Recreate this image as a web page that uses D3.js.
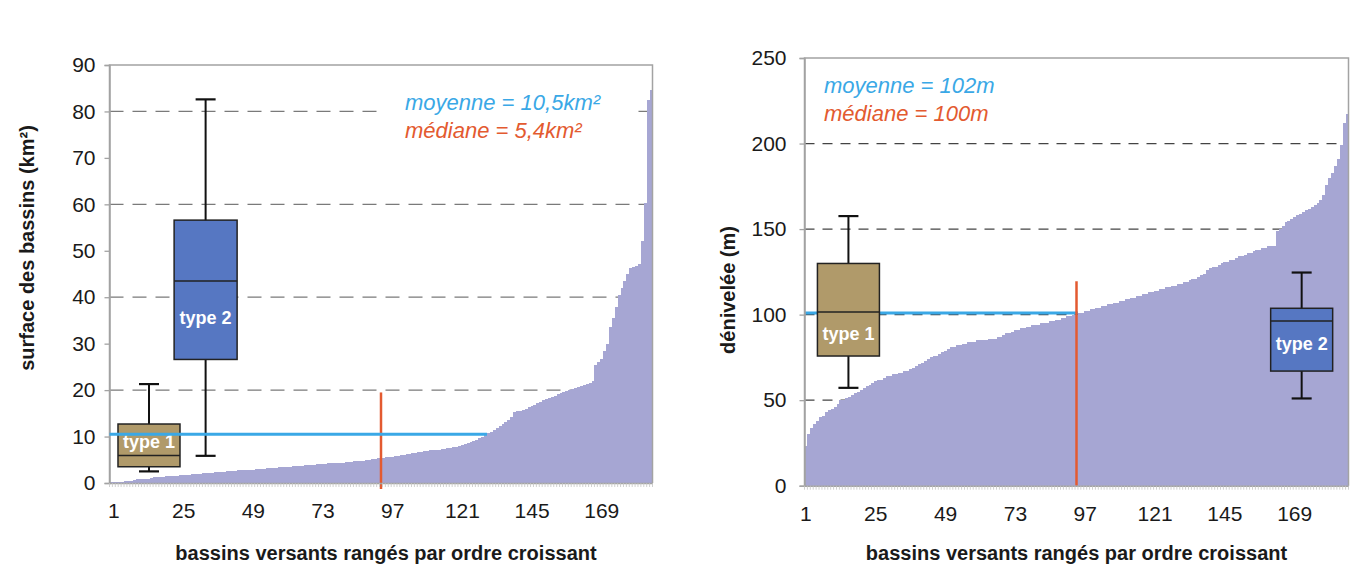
<!DOCTYPE html>
<html>
<head>
<meta charset="utf-8">
<script src="https://cdn.jsdelivr.net/npm/d3@7"></script>
<style>
  body { margin: 0; background: #fff; }
  svg { display: block; font-family: "Liberation Sans", Arial, sans-serif; }
</style>
</head>
<body>
<svg id="chart" width="1357" height="569"></svg>
<script>
// Basins sorted by increasing value (187 basins)
const surfaceValues = [
  0.2, 0.3, 0.3, 0.3, 0.3, 0.4, 0.4, 0.4, 0.7, 0.8,
  0.8, 0.8, 0.9, 0.9, 1.0, 1.2, 1.3, 1.3, 1.3, 1.4,
  1.4, 1.5, 1.5, 1.6, 1.7, 1.7, 1.8, 1.8, 1.9, 1.9,
  2.0, 2.0, 2.1, 2.1, 2.2, 2.2, 2.3, 2.3, 2.4, 2.4,
  2.5, 2.5, 2.6, 2.6, 2.7, 2.7, 2.8, 2.8, 2.9, 2.9,
  3.0, 3.0, 3.1, 3.1, 3.2, 3.2, 3.3, 3.3, 3.4, 3.4,
  3.5, 3.5, 3.5, 3.6, 3.6, 3.7, 3.7, 3.8, 3.8, 3.9,
  3.9, 4.0, 4.0, 4.1, 4.1, 4.2, 4.2, 4.3, 4.3, 4.4,
  4.4, 4.5, 4.5, 4.6, 4.7, 4.7, 4.8, 4.8, 4.9, 5.0,
  5.1, 5.2, 5.3, 5.4, 5.4, 5.5, 5.6, 5.7, 5.8, 5.9,
  6.0, 6.1, 6.2, 6.3, 6.4, 6.5, 6.6, 6.7, 6.8, 6.9,
  7.0, 7.0, 7.1, 7.2, 7.3, 7.4, 7.5, 7.6, 7.7, 7.8,
  8.0, 8.2, 8.4, 8.6, 8.8, 9.0, 9.3, 9.6, 10.0, 10.3,
  10.7, 11.0, 11.4, 11.8, 12.2, 12.6, 13.1, 13.6, 14.2, 15.2,
  15.4, 15.6, 15.8, 16.0, 16.3, 16.6, 16.9, 17.2, 17.5, 17.8,
  18.0, 18.2, 18.5, 18.8, 19.1, 19.4, 19.6, 19.8, 20.0, 20.2,
  20.4, 20.6, 20.8, 21.0, 21.3, 21.6, 21.9, 25.5, 26.0, 26.8,
  28.5, 30.0, 33.5, 35.5, 38.0, 40.5, 42.0, 43.5, 45.0, 46.2,
  46.5, 46.8, 47.2, 52.0, 60.2, 82.5, 84.6
];

const denivValues = [
  23, 30, 34, 36, 38, 40, 41, 43, 44, 45,
  46, 48, 50, 50, 51, 52, 53, 54, 55, 56,
  57, 58, 59, 60, 61, 62, 62, 63, 64, 64,
  65, 65, 66, 66, 67, 67, 68, 69, 70, 71,
  72, 73, 74, 75, 76, 76, 77, 78, 79, 80,
  81, 81, 82, 82, 83, 83, 84, 84, 84, 85,
  85, 85, 85, 86, 86, 86, 87, 87, 88, 89,
  89, 90, 91, 91, 92, 92, 93, 93, 94, 94,
  94, 95, 95, 95, 96, 96, 97, 97, 98, 98,
  99, 99, 100, 100, 101, 101, 102, 102, 103, 103,
  104, 104, 105, 105, 106, 106, 107, 107, 108, 108,
  109, 109, 110, 110, 111, 111, 112, 112, 113, 113,
  114, 114, 115, 115, 116, 116, 117, 117, 118, 118,
  119, 119, 120, 121, 121, 122, 123, 124, 126, 127,
  128, 128, 129, 130, 131, 131, 132, 132, 133, 134,
  134, 135, 136, 136, 137, 138, 138, 139, 139, 140,
  140, 140, 149, 150, 152, 154, 155, 156, 157, 158,
  159, 160, 161, 162, 163, 164, 165, 167, 170, 176,
  180, 183, 187, 191, 199, 212, 217
];

const xTickLabels = [1, 25, 49, 73, 97, 121, 145, 169];
const surfaceTicks = [0, 10, 20, 30, 40, 50, 60, 70, 80, 90];
const surfaceGrid = [20, 40, 60, 80];
const denivTicks = [0, 50, 100, 150, 200, 250];
const denivGrid = [50, 100, 150, 200];

// box stats: [whisker low, q1, median, q3, whisker high]
const surfaceType1 = [2.5, 3.5, 5.9, 12.7, 21.3];
const surfaceType2 = [5.85, 26.6, 43.5, 56.6, 82.6];
const denivType1 = [57.2, 75.8, 101.6, 129.9, 157.6];
const denivType2 = [51, 67, 96.3, 103.7, 124.6];

// mean / median markers
const surfaceMean = 10.5;
const surfaceMedianTop = 19.5;
const denivMean = 101;
const denivMedianTop = 119.5;

const surfaceNotes = ["moyenne = 10,5km²", "médiane = 5,4km²"];
const denivNotes = ["moyenne = 102m", "médiane = 100m"];

const COLORS = {
  bar: "#a6a6d3",
  mean: "#3aa8e6",
  median: "#e35a30",
  type1: "#b09a6a",
  type2: "#5677c2",
  frame: "#a3a3a3",
  text: "#1a1a1a"
};

const svg = d3.select("#chart");

function drawPanel(cfg) {
  const g = svg.append("g");
  const n = cfg.values.length;

  const x = d3.scaleBand()
    .domain(d3.range(1, n + 1))
    .range([cfg.left, cfg.right])
    .paddingInner(0).paddingOuter(0);
  // continuous position in category units (0 = left edge)
  const xc = d3.scaleLinear().domain([0, n]).range([cfg.left, cfg.right]);
  const y = d3.scaleLinear().domain(cfg.yDomain).range([cfg.bottom, cfg.top]);

  // dashed grid
  g.append("g").selectAll("line")
    .data(cfg.grid)
    .join("line")
    .attr("x1", cfg.left).attr("x2", cfg.right)
    .attr("y1", d => y(d)).attr("y2", d => y(d))
    .attr("stroke", cfg.gridColor)
    .attr("stroke-width", 1.3)
    .attr("stroke-dasharray", cfg.dash);

  // annotations on a white box (hides the grid behind them)
  const notes = g.append("g");
  notes.append("rect")
    .attr("x", cfg.noteX - 22).attr("y", cfg.noteY - 24)
    .attr("width", cfg.noteBoxW).attr("height", 62)
    .attr("fill", "#fff");
  notes.append("text")
    .attr("x", cfg.noteX).attr("y", cfg.noteY)
    .attr("fill", COLORS.mean).attr("font-size", 22).attr("font-style", "italic")
    .text(cfg.notes[0]);
  notes.append("text")
    .attr("x", cfg.noteX).attr("y", cfg.noteY + 28)
    .attr("fill", COLORS.median).attr("font-size", 22).attr("font-style", "italic")
    .text(cfg.notes[1]);

  // mean line length: up to the first bar reaching it
  const firstAbove = cfg.values.findIndex(v => v >= cfg.mean);
  const meanEnd = x(firstAbove + 1);

  function drawMean() {
    g.append("line")
      .attr("x1", cfg.left).attr("x2", meanEnd)
      .attr("y1", y(cfg.mean)).attr("y2", y(cfg.mean))
      .attr("stroke", COLORS.mean)
      .attr("stroke-width", 3);
  }
  if (!cfg.meanOnTop) drawMean();

  // bars (no gap between basins)
  g.append("g")
    .attr("shape-rendering", "crispEdges")
    .selectAll("rect")
    .data(cfg.values)
    .join("rect")
    .attr("x", (d, i) => x(i + 1))
    .attr("y", d => y(d))
    .attr("width", (d, i) => (i === n - 1 ? x.bandwidth() : x.bandwidth() + 1))
    .attr("height", d => y(0) - y(d))
    .attr("fill", COLORS.bar);

  // median line
  const medianIdx = Math.ceil(n / 2);
  const mx = x(medianIdx) + x.bandwidth() / 2;
  g.append("line")
    .attr("x1", mx).attr("x2", mx)
    .attr("y1", y(cfg.medianTop)).attr("y2", y(0) + cfg.medianBelow)
    .attr("stroke", COLORS.median)
    .attr("stroke-width", 2.5);

  // frame
  g.append("path")
    .attr("d", `M${cfg.left},${cfg.bottom} V${cfg.top} H${cfg.right} V${cfg.bottom}`)
    .attr("fill", "none")
    .attr("stroke", COLORS.frame)
    .attr("stroke-width", 1.5);

  // y axis
  const yAxis = g.append("g")
    .attr("transform", `translate(${cfg.left},0)`)
    .call(d3.axisLeft(y).tickValues(cfg.ticks).tickSize(5).tickPadding(cfg.yPad));
  yAxis.select(".domain").attr("stroke", COLORS.frame).attr("stroke-width", 1.5);
  yAxis.selectAll(".tick line").attr("stroke", COLORS.frame).attr("stroke-width", 1.3);
  yAxis.selectAll(".tick text")
    .attr("font-size", 21).attr("fill", COLORS.text)
    .attr("font-family", "'Liberation Sans', Arial, sans-serif");

  // x axis: comb of category ticks + labels every 24 basins
  const xAxis = g.append("g")
    .attr("transform", `translate(0,${cfg.bottom})`)
    .call(d3.axisBottom(x).tickValues(xTickLabels).tickSize(0).tickPadding(20));
  xAxis.select(".domain").attr("stroke", COLORS.frame).attr("stroke-width", 1.5);
  xAxis.selectAll(".tick text")
    .attr("font-size", 21).attr("fill", COLORS.text)
    .attr("dx", cfg.xLabelDx)
    .attr("font-family", "'Liberation Sans', Arial, sans-serif");
  g.append("g").selectAll("line")
    .data(d3.range(0, n + 1))
    .join("line")
    .attr("x1", d => xc(d)).attr("x2", d => xc(d))
    .attr("y1", cfg.bottom).attr("y2", cfg.bottom + 4)
    .attr("stroke", "#c4c4c4")
    .attr("stroke-width", 0.8);

  // box plots
  cfg.boxes.forEach(b => {
    const cx = xc(b.pos);
    const hw = b.width / 2;
    const [lo, q1, med, q3, hi] = b.stats;
    const bg = g.append("g");
    bg.append("line")
      .attr("x1", cx).attr("x2", cx).attr("y1", y(hi)).attr("y2", y(lo))
      .attr("stroke", "#111").attr("stroke-width", 2);
    [lo, hi].forEach(v => {
      bg.append("line")
        .attr("x1", cx - 10).attr("x2", cx + 10).attr("y1", y(v)).attr("y2", y(v))
        .attr("stroke", "#111").attr("stroke-width", 2.2);
    });
    bg.append("rect")
      .attr("x", cx - hw).attr("y", y(q3))
      .attr("width", b.width).attr("height", y(q1) - y(q3))
      .attr("fill", b.color).attr("stroke", "#222").attr("stroke-width", 1.5);
    bg.append("line")
      .attr("x1", cx - hw).attr("x2", cx + hw).attr("y1", y(med)).attr("y2", y(med))
      .attr("stroke", "#222").attr("stroke-width", 1.5);
    bg.append("text")
      .attr("x", cx).attr("y", y(b.labelAt))
      .attr("dy", "0.35em")
      .attr("text-anchor", "middle")
      .attr("fill", "#fff")
      .attr("font-size", 18).attr("font-weight", "bold")
      .text(b.name);
  });

  if (cfg.meanOnTop) drawMean();

  // axis titles
  g.append("text")
    .attr("transform", `translate(${cfg.yTitleX},${cfg.yTitleY}) rotate(-90)`)
    .attr("text-anchor", "middle")
    .attr("font-size", 20).attr("font-weight", "bold").attr("fill", COLORS.text)
    .text(cfg.yTitle);
  g.append("text")
    .attr("x", (cfg.left + cfg.right) / 2 + cfg.xTitleDx).attr("y", 560)
    .attr("text-anchor", "middle")
    .attr("font-size", 20).attr("font-weight", "bold").attr("fill", COLORS.text)
    .text("bassins versants rangés par ordre croissant");
}

drawPanel({
  values: surfaceValues,
  left: 109.5, right: 652.5, top: 65, bottom: 483,
  yDomain: [0, 90], ticks: surfaceTicks, grid: surfaceGrid,
  gridColor: "#7a7a7a", dash: "14,9",
  mean: surfaceMean, meanOnTop: true,
  medianTop: surfaceMedianTop, medianBelow: 6,
  yPad: 9, xLabelDx: 3,
  boxes: [
    { name: "type 1", stats: surfaceType1, pos: 13.6, width: 62, color: COLORS.type1, labelAt: 9 },
    { name: "type 2", stats: surfaceType2, pos: 33.1, width: 63, color: COLORS.type2, labelAt: 35.5 }
  ],
  notes: surfaceNotes, noteX: 405, noteY: 110, noteBoxW: 254,
  yTitle: "surface des bassins (km²)", yTitleX: 34, yTitleY: 248,
  xTitleDx: 5
});

drawPanel({
  values: denivValues,
  left: 804.5, right: 1348.5, top: 58, bottom: 485.7,
  yDomain: [0, 250], ticks: denivTicks, grid: denivGrid,
  gridColor: "#444", dash: "10,8",
  mean: denivMean, meanOnTop: false,
  medianTop: denivMedianTop, medianBelow: 0,
  yPad: 13, xLabelDx: 0,
  boxes: [
    { name: "type 1", stats: denivType1, pos: 15.1, width: 62, color: COLORS.type1, labelAt: 89 },
    { name: "type 2", stats: denivType2, pos: 170.9, width: 62, color: COLORS.type2, labelAt: 83 }
  ],
  notes: denivNotes, noteX: 824, noteY: 93, noteBoxW: 200,
  yTitle: "dénivelée (m)", yTitleX: 735, yTitleY: 290,
  xTitleDx: 0
});
</script>
</body>
</html>
